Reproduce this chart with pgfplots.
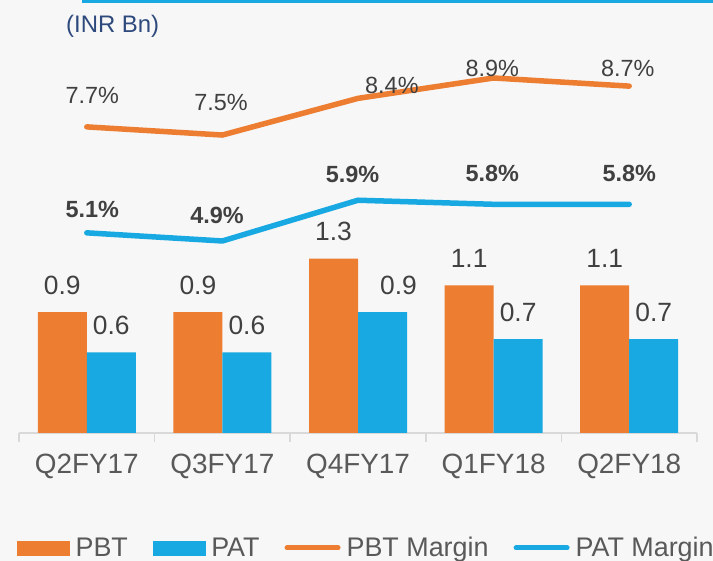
\documentclass[border=0pt]{standalone}
\usepackage{pgfplots}
\pgfplotsset{compat=1.18}
\usepackage{fontspec}
\setmainfont{Liberation Sans}

\definecolor{bg}{HTML}{F7F7F7}
\definecolor{pbt}{HTML}{ED7D31}
\definecolor{pat}{HTML}{19A9E2}
\definecolor{valtext}{HTML}{404040}
\definecolor{ticktext}{HTML}{595959}
\definecolor{axisgray}{HTML}{D9D9D9}
\definecolor{navy}{HTML}{2E4A7D}

\newcommand{\fs}[1]{\fontsize{#1}{#1}\selectfont}

% shared geometry of both axes (1px of the reference = 1bp)
\pgfplotsset{
  frame/.style={
    at={(19bp,128bp)}, anchor=south west,
    scale only axis, width=678bp, height=375.8bp,
    xmin=-0.5, xmax=4.5, clip=false,
  },
}

\begin{document}
\begin{tikzpicture}
\path[use as bounding box, fill=bg] (0,0) rectangle (713bp,561bp);
\fill[pat] (82bp,558bp) rectangle (713bp,561bp);
\node[anchor=west, inner sep=0pt, text=navy, font=\fs{24}] at (66bp,534.5bp) {(INR Bn)};

% bars: PBT and PAT (INR Bn)
\begin{axis}[
  frame, ymin=0, ymax=2.8,
  ybar, bar width=49bp,
  axis x line*=bottom, axis y line=none, ytick=\empty,
  axis line style={draw=axisgray, line width=2.5bp},
  xtick={0,...,4}, xticklabels={Q2FY17,Q3FY17,Q4FY17,Q1FY18,Q2FY18},
  major tick length=0pt,
  minor xtick={-0.5,0.5,...,4.5},
  minor tick length=9bp, tick align=outside,
  minor tick style={draw=axisgray, line width=1.5bp},
  xticklabel style={font=\fs{28}, text=ticktext, anchor=center, yshift=-33bp},
  nodes near coords, point meta=explicit symbolic,
  every node near coord/.append style={font=\fs{26.5}, text=valtext, anchor=center, inner sep=0pt, yshift=27bp},
]
\addplot[fill=pbt, draw=none, bar shift=-24.5bp]
  coordinates {(0,0.9)[0.9] (1,0.9)[0.9] (2,1.3)[1.3] (3,1.1)[1.1] (4,1.1)[1.1]};
\addplot[fill=pat, draw=none, bar shift=24.5bp]
  coordinates {(0,0.6)[0.6] (1,0.6)[0.6] (2,0.9)[\hspace*{32bp}0.9] (3,0.7)[0.7] (4,0.7)[0.7]};
\end{axis}

% lines: margins (%)
\begin{axis}[
  frame, ymin=0.188, ymax=9.41,
  hide axis,
  legend columns=4, legend cell align=left,
  legend style={at={(-0.003,-0.306)}, anchor=west, draw=none, fill=none,
    inner sep=0pt, font=\fs{27}, text=ticktext, nodes={inner sep=0pt},
    /tikz/every odd column/.append style={column sep=6bp},
    /tikz/every even column/.append style={column sep=25bp}},
]
\addplot[pbt, line width=5.5bp, line cap=round, line join=round, mark=none, forget plot]
  coordinates {(0,7.7) (1,7.5) (2,8.4) (3,8.9) (4,8.7)};
\addplot[pat, line width=5.5bp, line cap=round, line join=round, mark=none, forget plot]
  coordinates {(0,5.1) (1,4.9) (2,5.9) (3,5.8) (4,5.8)};
\addplot[draw=none, mark=none, forget plot, nodes near coords, point meta=explicit symbolic,
  every node near coord/.append style={font=\fs{23.5}, text=valtext, anchor=center, inner sep=0pt}]
  coordinates {(0.04,8.483)[7.7\%] (0.99,8.287)[7.5\%] (2.25,8.728)[8.4\%] (2.99,9.145)[8.9\%] (3.99,9.145)[8.7\%]};
\addplot[draw=none, mark=none, forget plot, nodes near coords, point meta=explicit symbolic,
  every node near coord/.append style={font=\fs{23.5}\bfseries, text=valtext, anchor=center, inner sep=0pt}]
  coordinates {(0.04,5.685)[5.1\%] (0.96,5.538)[4.9\%] (1.96,6.544)[5.9\%] (2.99,6.569)[5.8\%] (4,6.569)[5.8\%]};
\addlegendimage{legend image code/.code={\fill[pbt] (0bp,-7bp) rectangle (52bp,7bp);}}
\addlegendimage{legend image code/.code={\fill[pat] (0bp,-7bp) rectangle (52bp,7bp);}}
\addlegendimage{legend image code/.code={\draw[pbt, line width=5bp, line cap=round] (2.5bp,0) -- (53.5bp,0);}}
\addlegendimage{legend image code/.code={\draw[pat, line width=5bp, line cap=round] (2.5bp,0) -- (53.5bp,0);}}
\legend{PBT,PAT,PBT Margin,PAT Margin}
\end{axis}
\end{tikzpicture}
\end{document}
